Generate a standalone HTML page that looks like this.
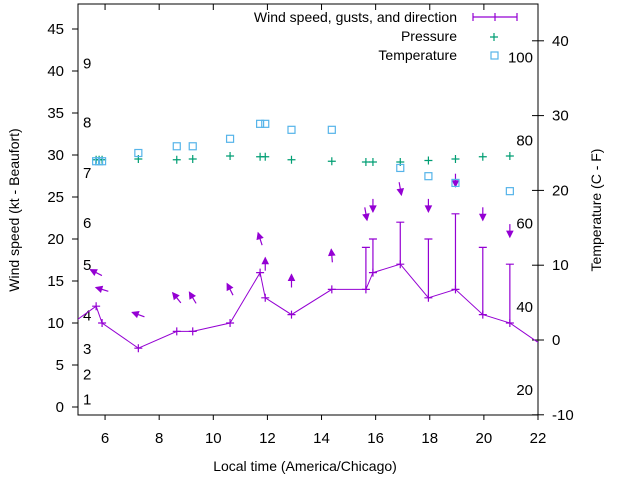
<!DOCTYPE html>
<html><head><meta charset="utf-8"><style>
body{margin:0;background:#fff}
svg text{font-family:"Liberation Sans",sans-serif;fill:#000}
</style></head><body>
<svg id="chart" width="640" height="480" viewBox="0 0 640 480" xmlns="http://www.w3.org/2000/svg">
<defs><clipPath id="plotclip"><rect x="78" y="4" width="460" height="411"/></clipPath></defs>
<g id="axes"></g>
<g id="marks" clip-path="url(#plotclip)"></g>
<g id="legend"></g>
</svg>
<script>
const hours = [4.8, 5.67, 5.89, 7.23, 8.65, 9.24, 10.62, 11.73, 11.92, 12.89, 14.38, 15.64, 15.90, 16.91, 17.95, 18.95, 19.96, 20.96, 22.4];
const windSpeed = [10, 12, 10, 7, 9, 9, 10, 16, 13, 11, 14, 14, 16, 17, 13, 14, 11, 10, 6.8];
const gusts = [0, 0, 0, 0, 0, 0, 0, 0, 0, 0, 0, 19, 20, 22, 20, 23, 19, 17, 0];
const windToward = [null, 297, 287, 290, 321, 329, 333, 342, 0, 0, 355, 170, 180, 170, 180, 180, 180, 180, null];
const pressHours = [5.67, 5.78, 5.89, 7.23, 8.65, 9.24, 10.62, 11.73, 11.92, 12.89, 14.38, 15.64, 15.90, 16.91, 17.95, 18.95, 19.96, 20.96];
const pressure = [24.1, 24.1, 24.1, 24.2, 24.1, 24.2, 24.6, 24.5, 24.5, 24.1, 23.9, 23.8, 23.8, 23.8, 24.0, 24.2, 24.5, 24.6];
const tempHours = [5.67, 5.78, 5.89, 7.23, 8.65, 9.24, 10.62, 11.73, 11.92, 12.89, 14.38, 16.91, 17.95, 18.95, 20.96];
const tempC = [23.9, 23.9, 23.9, 25.0, 25.9, 25.9, 26.9, 28.9, 28.9, 28.1, 28.1, 23.0, 21.9, 21.0, 19.9];
const xTicks = [6, 8, 10, 12, 14, 16, 18, 20, 22];
const yTicks = [0, 5, 10, 15, 20, 25, 30, 35, 40, 45];
const y2Ticks = [-10, 0, 10, 20, 30, 40];
const beaufort = [1, 2, 3, 4, 5, 6, 7, 8, 9];
const beaufortKt = [1, 4, 7, 11, 17, 22, 28, 34, 41];
const fahrenheit = [20, 40, 60, 80, 100];

const NS = "http://www.w3.org/2000/svg";
const X = h => 78 + (h - 5) * 460 / 17;
const Y = v => 407 - v * 8.4;
const Y2 = c => 340 - c * 7.48;
function mk(parent, tag, attrs, txt) {
  const e = document.createElementNS(NS, tag);
  for (const k in attrs) e.setAttribute(k, attrs[k]);
  if (txt !== undefined) e.textContent = txt;
  document.getElementById(parent).appendChild(e);
  return e;
}
const PURPLE = "#9400d3", GREEN = "#009e73", BLUE = "#56b4e9";

// frame
let e = mk("axes", "rect", {x: 78, y: 4, width: 460, height: 411, fill: "none", stroke: "#000", "stroke-width": 1});


xTicks.forEach(t => {
  const x = X(t);
  let l = mk("axes", "path", {d: `M${x},415v5M${x},4v6`, stroke: "#000"});
  
  
  let tx = mk("axes", "text", {x: x, y: 443, "text-anchor": "middle", "font-size": 15}, t);
  
  
});
yTicks.forEach(t => {
  const y = Y(t);
  let l = mk("axes", "path", {d: `M72,${y}h6`, stroke: "#000"});
  
  
  let tx = mk("axes", "text", {x: 64, y: y + 5, "text-anchor": "end", "font-size": 15}, t);
  
  
});
y2Ticks.forEach(t => {
  const y = Y2(t);
  let l = mk("axes", "path", {d: `M532,${y}h12`, stroke: "#000"});
  
  
  let tx = mk("axes", "text", {x: 552, y: y + 5, "font-size": 15}, t);
  
  
});
beaufort.forEach((b, i) => {
  let tx = mk("axes", "text", {x: 83, y: Y(beaufortKt[i]) + 6, "font-size": 15}, b);
  
  
});
fahrenheit.forEach(f => {
  let tx = mk("axes", "text", {x: 533, y: Y2((f - 32) * 5 / 9) + 5, "text-anchor": "end", "font-size": 15}, f);
  
  
});
e = mk("axes", "text", {x: 305, y: 471, "text-anchor": "middle", "font-size": 14}, "Local time (America/Chicago)");


e = mk("axes", "text", {x: 0, y: 0, "text-anchor": "middle", "font-size": 14, transform: "translate(19,210) rotate(-90)"}, "Wind speed (kt - Beaufort)");


e = mk("axes", "text", {x: 0, y: 0, "text-anchor": "middle", "font-size": 14, transform: "translate(601,210) rotate(-90)"}, "Temperature (C - F)");



// wind line
const pts = hours.map((h, i) => X(h) + "," + Y(windSpeed[i])).join(" ");
e = mk("marks", "polyline", {points: pts, fill: "none", stroke: PURPLE, "stroke-width": 1});


function plus(g, x, y, c, name) {
  const p = mk(g, "path", {d: `M${x - 4},${y}h8M${x},${y - 4}v8`, stroke: c, "stroke-width": 1.2});
  
  
}
hours.forEach((h, i) => {
  plus("marks", X(h), Y(windSpeed[i]), PURPLE, 'wind-point');
  if (gusts[i] > 0) {
    const x = X(h), y1 = Y(windSpeed[i]), y2 = Y(gusts[i]);
    const g = mk("marks", "path", {d: `M${x},${y1}V${y2}M${x - 4},${y2}h8`, stroke: PURPLE, "stroke-width": 1.2});
    
    
  }
  if (windToward[i] !== null) {
    const c = Math.max(windSpeed[i], gusts[i]) + 4;
    const cx = X(h), cy = Y(c), r = windToward[i] * Math.PI / 180;
    const dx = Math.sin(r), dy = -Math.cos(r), L = 6.5;
    const hx = cx + dx * L, hy = cy + dy * L, tx = cx - dx * L, ty = cy - dy * L;
    const px = -dy, py = dx;
    const a = mk("marks", "path", {d: `M${tx},${ty}L${hx},${hy}`, stroke: PURPLE, "stroke-width": 1.2});
    
    
    const bx = hx - dx * 6, by = hy - dy * 6;
    const hd = mk("marks", "path", {d: `M${hx},${hy}L${bx + px * 3},${by + py * 3}L${bx - px * 3},${by - py * 3}Z`, fill: PURPLE, stroke: PURPLE});
    
    
  }
});
pressHours.forEach((h, i) => plus("marks", X(h), Y2(pressure[i]), GREEN, 'pressure-point'));
tempHours.forEach((h, i) => {
  const s = mk("marks", "rect", {x: X(h) - 3.5, y: Y2(tempC[i]) - 3.5, width: 7, height: 7, fill: "none", stroke: BLUE, "stroke-width": 1.2});
  
  
});

// legend
e = mk("legend", "text", {x: 457, y: 22, "text-anchor": "end", "font-size": 14}, "Wind speed, gusts, and direction");


e = mk("legend", "path", {d: "M473,17h44M473,13v8M517,13v8M495,13v8", stroke: PURPLE, "stroke-width": 1.2});


e = mk("legend", "text", {x: 457, y: 41, "text-anchor": "end", "font-size": 14}, "Pressure");


plus("legend", 494, 37, GREEN, 'legend-pressure-sample');
e = mk("legend", "text", {x: 457, y: 60, "text-anchor": "end", "font-size": 14}, "Temperature");


e = mk("legend", "rect", {x: 491, y: 52, width: 7, height: 7, fill: "none", stroke: BLUE, "stroke-width": 1.2});


</script>
</body></html>
